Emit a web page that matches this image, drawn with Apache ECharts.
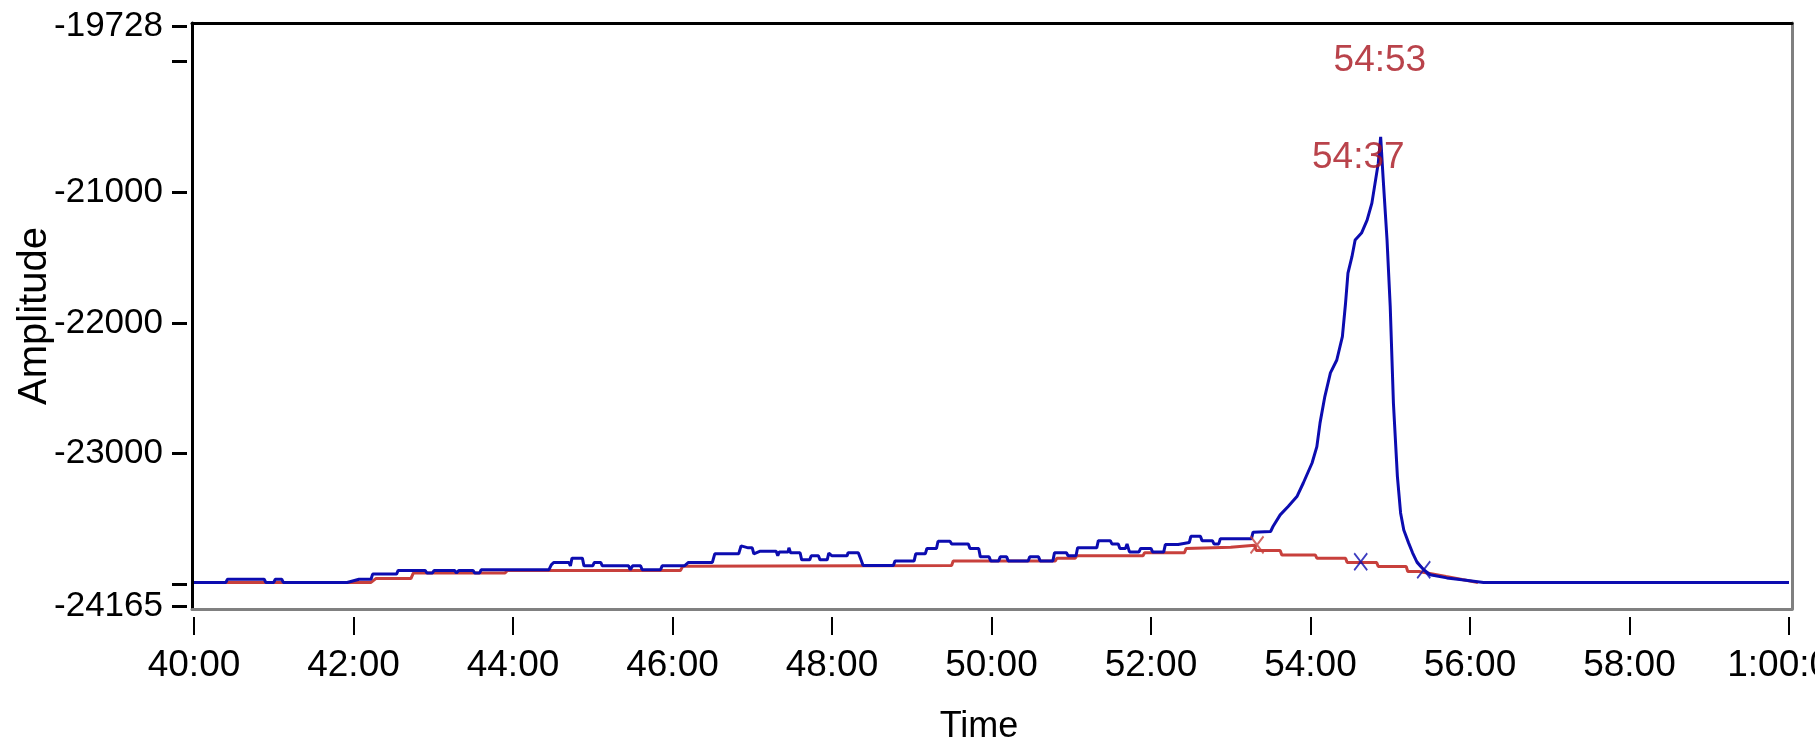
<!DOCTYPE html>
<html>
<head>
<meta charset="utf-8">
<script src="https://cdn.jsdelivr.net/npm/echarts@6/dist/echarts.min.js"></script>
<style>
html,body{margin:0;padding:0;background:#fff;}
#chart{width:1815px;height:740px;}
</style>
</head>
<body>
<div id="chart"></div>
<script>
// ---- data (time in minutes, amplitude) ----
const blueT = [40.00,40.40,40.42,40.88,40.90,41.00,41.02,41.10,41.12,41.92,42.07,42.22,42.24,42.54,42.56,42.90,42.92,42.99,43.01,43.27,43.29,43.32,43.50,43.52,43.58,43.60,44.45,44.48,44.51,44.70,44.72,44.74,44.87,44.89,45.00,45.02,45.10,45.12,45.45,45.47,45.50,45.60,45.62,45.85,45.87,46.15,46.20,46.50,46.53,46.83,46.86,46.95,47.00,47.02,47.10,47.30,47.32,47.34,47.45,47.46,47.48,47.60,47.62,47.72,47.74,47.83,47.85,47.94,47.96,48.00,48.19,48.20,48.33,48.35,48.39,48.77,48.79,49.03,49.05,49.17,49.19,49.31,49.33,49.48,49.50,49.71,49.73,49.84,49.86,49.97,49.99,50.09,50.11,50.19,50.21,50.46,50.48,50.59,50.61,50.77,50.79,50.94,50.96,51.06,51.08,51.32,51.34,51.49,51.51,51.59,51.61,51.68,51.70,51.73,51.85,51.87,52.00,52.02,52.16,52.18,52.34,52.36,52.48,52.50,52.62,52.64,52.77,52.79,52.85,52.87,53.26,53.28,53.50,53.53,53.62,53.72,53.83,53.91,54.02,54.08,54.12,54.18,54.25,54.33,54.40,54.44,54.47,54.52,54.56,54.64,54.71,54.77,54.81,54.85,54.88,54.91,54.96,55.00,55.04,55.09,55.13,55.17,55.23,55.28,55.34,55.42,55.50,55.71,55.90,56.17,60.00];
const blueV = [-23985,-23985,-23960,-23960,-23985,-23985,-23960,-23960,-23985,-23985,-23960,-23960,-23921,-23921,-23893,-23893,-23913,-23913,-23893,-23893,-23913,-23893,-23893,-23913,-23913,-23888,-23888,-23850,-23832,-23832,-23858,-23799,-23799,-23858,-23858,-23832,-23832,-23858,-23858,-23888,-23858,-23858,-23888,-23888,-23858,-23858,-23832,-23832,-23766,-23766,-23705,-23720,-23720,-23766,-23746,-23746,-23781,-23751,-23751,-23720,-23758,-23758,-23812,-23812,-23781,-23781,-23812,-23812,-23760,-23781,-23781,-23758,-23758,-23789,-23855,-23855,-23820,-23820,-23766,-23766,-23725,-23725,-23670,-23670,-23690,-23690,-23725,-23725,-23789,-23789,-23820,-23820,-23789,-23789,-23820,-23820,-23789,-23789,-23820,-23820,-23758,-23758,-23781,-23781,-23720,-23720,-23665,-23665,-23690,-23690,-23725,-23725,-23690,-23751,-23751,-23725,-23725,-23751,-23751,-23695,-23695,-23680,-23680,-23632,-23632,-23665,-23665,-23690,-23690,-23650,-23650,-23600,-23595,-23557,-23468,-23404,-23328,-23224,-23071,-22946,-22764,-22563,-22382,-22283,-22105,-21847,-21618,-21493,-21365,-21312,-21213,-21083,-20930,-20777,-20576,-20882,-21365,-21875,-22612,-23175,-23453,-23583,-23682,-23758,-23835,-23888,-23926,-23950,-23965,-23985,-23985];
const redT = [40.00,42.22,42.28,42.72,42.75,43.90,43.93,46.10,46.13,49.50,49.52,50.80,50.82,51.05,51.07,51.90,51.92,52.42,52.44,53.00,53.30,53.32,53.62,53.64,54.06,54.08,54.44,54.46,54.83,54.85,55.20,55.22,55.36,55.70,56.10];
const redV = [-23985,-23985,-23955,-23955,-23913,-23913,-23893,-23893,-23860,-23855,-23820,-23820,-23800,-23800,-23781,-23781,-23758,-23758,-23725,-23715,-23700,-23741,-23741,-23774,-23774,-23799,-23799,-23833,-23833,-23863,-23863,-23901,-23901,-23940,-23985];
const redMarkT = [53.33];
const redMarkV = [-23697];
const blueMarkT = [54.63, 55.42];
const blueMarkV = [-23827, -23888];
const peakText = ['54:53', '54:37'];
const peakT = [54.87, 54.60];
const peakV = [-19997, -20739];
const xTicks = [40, 42, 44, 46, 48, 50, 52, 54, 56, 58, 60];
const yTicks = [-24165, -24000, -23000, -22000, -21000, -20000, -19728];
const yLabels = [-24165, -23000, -22000, -21000, -19728];

const FONT = "'Liberation Sans', Arial, sans-serif";
const X_MIN = 39.975, X_MAX = 60.038, Y_MIN = -24188, Y_MAX = -19705;

function fmtTime(m) {
  const totalSec = Math.round(m * 60);
  const h = Math.floor(totalSec / 3600);
  const mm = Math.floor((totalSec % 3600) / 60);
  const ss = totalSec % 60;
  const p = n => String(n).padStart(2, '0');
  return h > 0 ? h + ':' + p(mm) + ':' + p(ss) : p(mm) + ':' + p(ss);
}
const zip = (a, b) => a.map((v, i) => [v, b[i]]);

const chart = echarts.init(document.getElementById('chart'), null, {renderer: 'canvas'});
const hidden = {show: false};
chart.setOption({
  animation: false,
  backgroundColor: '#ffffff',
  grid: {left: 192, right: 23, top: 23, bottom: 131, containLabel: false, outerBoundsMode: 'none'},
  xAxis: [
    {type: 'value', min: X_MIN, max: X_MAX, position: 'bottom',
     axisLine: {show: true, lineStyle: {color: '#808080', width: 3}},
     axisTick: hidden, axisLabel: hidden, splitLine: hidden},
    {type: 'value', min: X_MIN, max: X_MAX, position: 'bottom', offset: 8,
     axisLine: hidden, splitLine: hidden,
     axisTick: {show: true, length: 18, customValues: xTicks, lineStyle: {color: '#000', width: 2}},
     axisLabel: {show: true, customValues: xTicks, margin: 30, color: '#000', fontFamily: FONT, fontSize: 37,
                 alignMinLabel: 'center', alignMaxLabel: 'center', hideOverlap: false,
                 formatter: v => fmtTime(v)},
     name: 'Time', nameLocation: 'middle', nameGap: 92, nameMoveOverlap: false,
     nameTextStyle: {color: '#000', fontFamily: FONT, fontSize: 36, padding: [0, 26, 0, 0]}},
    {type: 'value', min: X_MIN, max: X_MAX, position: 'top',
     axisLine: {show: true, lineStyle: {color: '#000', width: 3}},
     axisTick: hidden, axisLabel: hidden, splitLine: hidden}
  ],
  yAxis: [
    {type: 'value', min: Y_MIN, max: Y_MAX, position: 'left',
     axisLine: {show: true, lineStyle: {color: '#000', width: 3}},
     axisTick: hidden, axisLabel: hidden, splitLine: hidden},
    {type: 'value', min: Y_MIN, max: Y_MAX, position: 'left', offset: 5,
     axisLine: hidden, splitLine: hidden,
     axisTick: {show: true, length: 15, customValues: yTicks, lineStyle: {color: '#000', width: 3}},
     axisLabel: {show: true, customValues: yLabels, margin: 24, color: '#000', fontFamily: FONT, fontSize: 35,
                 hideOverlap: false, formatter: v => String(v)},
     name: 'Amplitude', nameLocation: 'middle', nameGap: 132, nameRotate: 90, nameMoveOverlap: false,
     nameTextStyle: {color: '#000', fontFamily: FONT, fontSize: 40}},
    {type: 'value', min: Y_MIN, max: Y_MAX, position: 'right',
     axisLine: {show: true, lineStyle: {color: '#808080', width: 3}},
     axisTick: hidden, axisLabel: hidden, splitLine: hidden}
  ],
  series: [
    {type: 'line', name: 'baseline', data: zip(redT, redV), showSymbol: false, symbol: 'none',
     lineStyle: {color: '#c8403c', width: 3}, z: 2},
    {type: 'line', name: 'signal', data: zip(blueT, blueV), showSymbol: false, symbol: 'none',
     lineStyle: {color: '#0c0cb0', width: 3}, z: 3},
    {type: 'scatter', data: zip(redMarkT, redMarkV), symbol: 'path://M0,0L10,14M10,0L0,14',
     symbolSize: [13, 17], itemStyle: {color: 'none', borderColor: '#c8403c', borderWidth: 2}, z: 4},
    {type: 'scatter', data: zip(blueMarkT, blueMarkV), symbol: 'path://M0,0L10,14M10,0L0,14',
     symbolSize: [13, 17], itemStyle: {color: 'none', borderColor: '#0c0cb0', borderWidth: 2}, z: 4},
    {type: 'scatter', data: peakT.map((t, i) => ({value: [t, peakV[i]], name: peakText[i]})),
     symbolSize: 0, z: 5,
     label: {show: true, position: 'inside', formatter: p => p.name, color: '#a8141e',
             fontFamily: FONT, fontSize: 37}}
  ]
});
</script>
</body>
</html>
